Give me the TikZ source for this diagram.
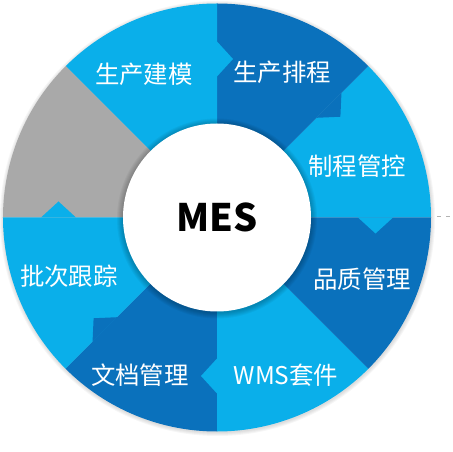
\documentclass[tikz,border=0pt]{standalone}
\usepackage{fontspec}
\newfontfamily\cjk{Noto Sans CJK SC}
\usepackage{xcolor}
\definecolor{mesLight}{RGB}{10,175,234}
\definecolor{mesDark}{RGB}{10,113,188}
\definecolor{mesGray}{RGB}{169,169,169}
\usepackage{tikz}

\begin{document}
\begin{tikzpicture}[x=1bp, y=1bp,
    seglabel/.style={text=white, font=\cjk\fontsize{24.5}{28}\selectfont, inner sep=0pt}]
    \useasboundingbox (-217, -234.5) rectangle (236, 217.5);
    % soft shadow round the ring
    \foreach \i in {1,...,4} \fill[black, opacity=0.035] (0.5,-1) circle (213.5+\i);
    % ring segments, counter-clockwise from the right
    \foreach \a/\c in {0/mesLight, 45/mesDark, 90/mesLight, 135/mesGray,
                      180/mesLight, 225/mesDark, 270/mesLight, 315/mesDark}
        \fill[\c] (0,0) -- (\a:214) arc[start angle=\a, delta angle=45, radius=214] -- cycle;
    % arrow tabs on the borders
    \foreach \t/\c in {90/mesLight, 45/mesDark, 0/mesLight, -90/mesLight, -135/mesDark, 180/mesLight}
        \fill[\c, rotate=\t] (141,0) -- (176,0) -- (158.5,-16) -- cycle;
    % centre
    \foreach \i in {1,...,6} \fill[black, opacity=0.04] (0,-1) circle (94+\i);
    \fill[white] (0,0) circle (94);
    \node[font=\cjk\bfseries\fontsize{38}{42}\selectfont, inner sep=0pt] (mes) at (0,0.5) {MES};
    \node[seglabel] (model) at (-73, 143.5) {生产建模};
    \node[seglabel] (sched) at (65, 145.5) {生产排程};
    \node[seglabel] (proc)  at (140, 51.5) {制程管控};
    \node[seglabel] (qual)  at (145, -61.5) {品质管理};
    \node[seglabel] (wms)   at (69, -157.5) {WMS套件};
    \node[seglabel] (docs)  at (-77, -157.5) {文档管理};
    \node[seglabel] (batch) at (-148, -58.5) {批次跟踪};
    \draw[black!30, dash pattern=on 4bp off 5bp] (220,1.5) -- (236,1.5);
\end{tikzpicture}
\end{document}
